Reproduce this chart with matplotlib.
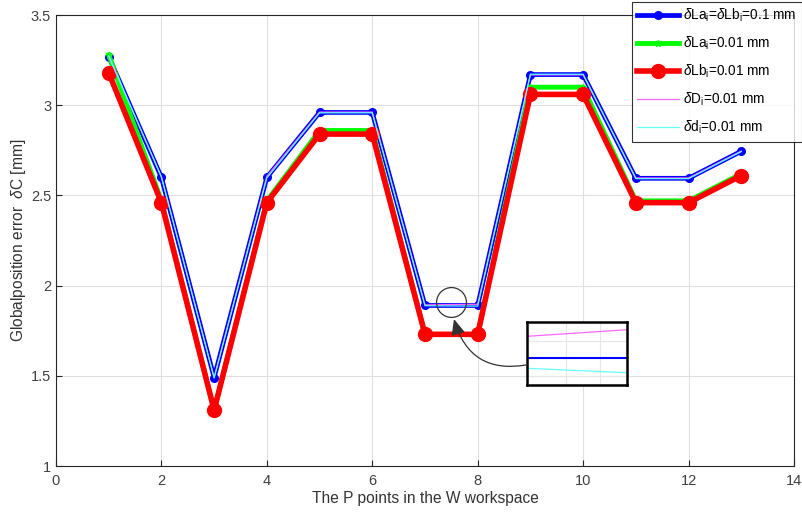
import matplotlib
matplotlib.use("Agg")
import matplotlib.pyplot as plt
from matplotlib.patches import ConnectionPatch

plt.rcParams['font.family'] = ['Liberation Sans', 'DejaVu Sans']
plt.rcParams['mathtext.fontset'] = 'custom'
plt.rcParams['mathtext.rm'] = 'Liberation Sans'
plt.rcParams['mathtext.it'] = 'Liberation Sans:italic'

points = list(range(1, 14))
err_LaLb = [3.27, 2.60, 1.49, 2.60, 2.96, 2.96, 1.890, 1.890, 3.17, 3.17, 2.595, 2.595, 2.745]
err_La = [3.28, 2.47, 1.31, 2.47, 2.86, 2.86, 1.73, 1.73, 3.10, 3.10, 2.47, 2.47, 2.62]
err_Lb = [3.18, 2.46, 1.31, 2.46, 2.84, 2.84, 1.73, 1.73, 3.06, 3.06, 2.46, 2.46, 2.61]
err_D = [3.272, 2.602, 1.491, 2.606, 2.962, 2.962, 1.8935, 1.8965, 3.168, 3.168, 2.597, 2.597, 2.746]
err_d = [3.274, 2.603, 1.488, 2.597, 2.958, 2.958, 1.8885, 1.8865, 3.172, 3.172, 2.593, 2.593, 2.743]

labels = [r'$\delta$La$_\mathrm{i}$=$\delta$Lb$_\mathrm{i}$=0.1 mm',
          r'$\delta$La$_\mathrm{i}$=0.01 mm',
          r'$\delta$Lb$_\mathrm{i}$=0.01 mm',
          r'$\delta$D$_\mathrm{i}$=0.01 mm',
          r'$\delta$d$_\mathrm{i}$=0.01 mm']
colors = ['#0000ff', '#00ff00', '#ff0000', '#ff66ff', '#66ffff']

fig = plt.figure(figsize=(8.02, 5.15), dpi=100)
ax = fig.add_axes([0.0698, 0.0951, 0.9202, 0.8757])

ax.plot(points, err_LaLb, color=colors[0], lw=3.4, marker='o', ms=5.5, label=labels[0])
ax.plot(points, err_La, color=colors[1], lw=3.5, marker='*', ms=5, label=labels[1])
ax.plot(points, err_Lb, color=colors[2], lw=4.0, marker='o', ms=10, label=labels[2])
ax.plot(points, err_D, color=colors[3], lw=0.9, label=labels[3])
ax.plot(points, err_d, color=colors[4], lw=0.9, label=labels[4])

ax.set_xlim(0, 14)
ax.set_ylim(1, 3.5)
ax.set_xticks(range(0, 15, 2))
ax.set_yticks([1, 1.5, 2, 2.5, 3, 3.5])
ax.set_yticklabels(['1', '1.5', '2', '2.5', '3', '3.5'])
ax.grid(True, color='#e0e0e0', lw=0.8)
ax.set_axisbelow(True)
ax.tick_params(direction='in', length=4, labelsize=10.5, colors='#262626', labelcolor='#404040')
ax.tick_params(axis='x', pad=6)
for s in ax.spines.values():
    s.set_color('#262626')
    s.set_linewidth(0.8)
ax.set_xlabel('The P points in the W workspace', fontsize=11.2, color='#333333', labelpad=2)
ax.set_ylabel('Globalposition error  $\\delta$C [mm]', fontsize=11.2, color='#333333', labelpad=2)

leg = ax.legend(loc='upper right', bbox_to_anchor=(1.0, 0.997), bbox_transform=fig.transFigure,
                fontsize=9.8, frameon=True, fancybox=False, edgecolor='black',
                handlelength=3.1, borderaxespad=0.0, labelspacing=0.78, handletextpad=0.3,
                borderpad=0.4)
leg.get_frame().set_linewidth(0.8)

# zoom circle
ax.plot([7.5], [1.909], marker='o', ms=21.5, mfc='none', mec='#333333', mew=0.9, zorder=6)

# inset
axin = fig.add_axes([0.657, 0.2524, 0.1247, 0.1223])
axin.plot(points, err_LaLb, color=colors[0], lw=1.5)
axin.plot(points, err_D, color=colors[3], lw=0.9)
axin.plot(points, err_d, color=colors[4], lw=0.9)
axin.set_xlim(7.28, 7.72)
axin.set_ylim(1.8846, 1.8972)
axin.set_xticks([7.45, 7.6])
axin.set_yticks([1.8865, 1.8935])
axin.set_xticklabels([])
axin.set_yticklabels([])
axin.tick_params(length=0)
axin.grid(True, color='#e6e6e6', lw=0.8)
for s in axin.spines.values():
    s.set_linewidth(1.8)
    s.set_color('black')

con = ConnectionPatch(xyA=(0.0, 0.32), coordsA=axin.transAxes,
                      xyB=(7.55, 1.815), coordsB=ax.transData,
                      arrowstyle='-|>,head_length=0.8,head_width=0.35',
                      connectionstyle='arc3,rad=-0.45', color='#333333', lw=0.9,
                      mutation_scale=12)
fig.add_artist(con)

fig.savefig('out.png', dpi=100)
